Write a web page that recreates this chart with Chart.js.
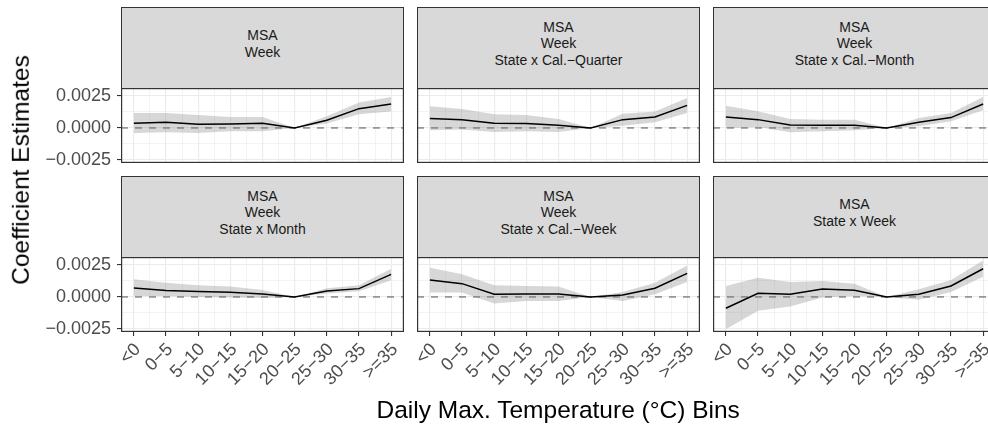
<!DOCTYPE html>
<html>
<head>
<meta charset="utf-8">
<script src="https://cdn.jsdelivr.net/npm/chart.js@4/dist/chart.umd.min.js"></script>
<style>
  html, body { margin: 0; padding: 0; background: #fff; overflow: hidden; }
  #fig { position: relative; width: 988px; height: 425px; overflow: hidden;
         font-family: "Liberation Sans", Arial, sans-serif; }
  .strip { position: absolute; box-sizing: border-box; background: #D9D9D9;
           border: 1px solid #333; display: flex; align-items: center;
           justify-content: center; text-align: center; color: #1A1A1A;
           font-size: 14px; line-height: 16.5px; padding-bottom: 9px; }
  canvas { position: absolute; }
  .axis-title { position: absolute; color: #000; font-size: 24.5px; white-space: nowrap; }
</style>
</head>
<body>
<div id="fig"></div>
<script>
// temperature bins on the x axis
const bins = ['<0', '0\u22125', '5\u221210', '10\u221215', '15\u221220', '20\u221225', '25\u221230', '30\u221235', '>=35'];

// y ticks
const yTickValues = [-0.0025, 0, 0.0025];
const yTickLabels = ['\u22120.0025', '0.0000', '0.0025'];

// MSA / Week
const estWeek = [0.00037, 0.00044, 0.00029, 0.00031, 0.00036, 0, 0.0006, 0.00151, 0.00188];
const hiWeek  = [0.00117, 0.00117, 0.00102, 0.00086, 0.00086, 0, 0.00091, 0.0020, 0.00242];
const loWeek  = [-0.00039, -0.00034, -0.00039, -0.00026, -0.00026, 0, 0.00034, 0.00107, 0.00128];

// MSA / Week / State x Cal.-Quarter
const estCalQuarter = [0.00073, 0.00065, 0.00036, 0.00034, 0.00021, 0, 0.00065, 0.00086, 0.00177];
const hiCalQuarter  = [0.00169, 0.00148, 0.00107, 0.00102, 0.0007, 0, 0.00112, 0.00128, 0.00234];
const loCalQuarter  = [-0.00018, -0.00013, -0.00031, -0.00026, -0.00031, 0, 0.00018, 0.00044, 0.00117];

// MSA / Week / State x Cal.-Month
const estCalMonth = [0.00086, 0.00065, 0.00023, 0.00021, 0.00021, 0, 0.00044, 0.00081, 0.00188];
const hiCalMonth  = [0.00174, 0.0013, 0.0007, 0.00065, 0.00065, 0, 0.00078, 0.00117, 0.00242];
const loCalMonth  = [-0.00002, 0.00008, -0.00034, -0.00026, -0.00018, 0, 0.00013, 0.00052, 0.00138];

// MSA / Week / State x Month
const estMonth = [0.0007, 0.0005, 0.00042, 0.00036, 0.00023, 0, 0.00047, 0.00065, 0.00177];
const hiMonth  = [0.00138, 0.00112, 0.00091, 0.00081, 0.00055, 0, 0.00068, 0.00091, 0.00221];
const loMonth  = [0.00008, 0.00008, 0, -0.00005, -0.00008, 0, 0.00026, 0.00044, 0.0013];

// MSA / Week / State x Cal.-Week
const estCalWeek = [0.00133, 0.00104, 0.00021, 0.00023, 0.00023, 0, 0.00016, 0.00068, 0.00185];
const hiCalWeek  = [0.00229, 0.00177, 0.00091, 0.00086, 0.00081, 0, 0.00039, 0.00112, 0.00247];
const loCalWeek  = [0.00034, 0.00034, -0.00052, -0.00031, -0.00031, 0, -0.00031, 0.00021, 0.00117];

// MSA / State x Week
const estStateWeek = [-0.00089, 0.00029, 0.00021, 0.00063, 0.00052, 0, 0.00021, 0.00086, 0.00221];
const hiStateWeek  = [0.00086, 0.00151, 0.00117, 0.00125, 0.00104, 0, 0.0006, 0.00133, 0.00286];
const loStateWeek  = [-0.00253, -0.00109, -0.00076, -0.00005, 0.00008, 0, -0.00023, 0.00039, 0.00159];

const panels = [
  { title: ['MSA', 'Week'], est: estWeek, hi: hiWeek, lo: loWeek },
  { title: ['MSA', 'Week', 'State x Cal.\u2212Quarter'], est: estCalQuarter, hi: hiCalQuarter, lo: loCalQuarter },
  { title: ['MSA', 'Week', 'State x Cal.\u2212Month'], est: estCalMonth, hi: hiCalMonth, lo: loCalMonth },
  { title: ['MSA', 'Week', 'State x Month'], est: estMonth, hi: hiMonth, lo: loMonth },
  { title: ['MSA', 'Week', 'State x Cal.\u2212Week'], est: estCalWeek, hi: hiCalWeek, lo: loCalWeek },
  { title: ['MSA', 'State x Week'], est: estStateWeek, hi: hiStateWeek, lo: loStateWeek }
];

// facet grid geometry
const colX = [121, 417, 713];
const stripTop = [7, 176];
const STRIP_H = 82, PANEL_W = 283, PANEL_H = 75;
const Y_AXIS_W = 121, GAP = 13, X_AXIS_H = 70;
const TOP_PAD = 10, BOTTOM_PAD = 10;   // room for y labels overhanging the plot area
const X_MIN = -0.4, X_MAX = 8.4;
const Y_MIN = -0.00275, Y_MAX = 0.00313;
const FONT = '"Liberation Sans", Arial, sans-serif';

const xGrid = [];
for (let i = 0; i <= 16; i++) xGrid.push(i / 2);
const yGrid = [-0.0025, -0.00125, 0, 0.00125, 0.0025];

const isMajorX = v => Math.abs(v - Math.round(v)) < 1e-9;
const yMajorIndex = v => yTickValues.findIndex(t => Math.abs(t - v) < 1e-9);

// keep the plot area fixed: no label overhang padding
const noPadding = s => {
  s.paddingTop = 0; s.paddingBottom = 0; s.paddingLeft = 0; s.paddingRight = 0;
};

const panelBorder = {
  id: 'panelBorder',
  afterDraw(chart) {
    const { ctx, chartArea: a } = chart;
    ctx.save();
    ctx.strokeStyle = '#333333';
    ctx.lineWidth = 1.2;
    ctx.strokeRect(a.left + 0.6, a.top + 0.6, a.right - a.left - 1.2, a.bottom - a.top - 1.2);
    ctx.restore();
  }
};

const fig = document.getElementById('fig');
const toPts = arr => arr.map((y, i) => ({ x: i, y: y }));

panels.forEach((p, k) => {
  const row = Math.floor(k / 3), col = k % 3;
  const showX = row === 1, showY = col === 0;

  const strip = document.createElement('div');
  strip.className = 'strip';
  strip.style.left = colX[col] + 'px';
  strip.style.top = stripTop[row] + 'px';
  strip.style.width = PANEL_W + 'px';
  strip.style.height = STRIP_H + 'px';
  strip.innerHTML = '<div>' + p.title.join('<br>') + '</div>';
  fig.appendChild(strip);

  const leftW = showY ? Y_AXIS_W : GAP;
  const botH = showX ? X_AXIS_H : BOTTOM_PAD;
  const canvas = document.createElement('canvas');
  canvas.width = PANEL_W + leftW;
  canvas.height = TOP_PAD + PANEL_H + botH;
  canvas.style.left = (colX[col] - leftW) + 'px';
  canvas.style.top = (stripTop[row] + STRIP_H - 1 - TOP_PAD) + 'px';
  fig.appendChild(canvas);

  new Chart(canvas, {
    type: 'line',
    data: {
      datasets: [
        { data: toPts(p.lo), borderWidth: 0, pointRadius: 0, fill: false, order: 3 },
        { data: toPts(p.hi), borderWidth: 0, pointRadius: 0, fill: '-1',
          backgroundColor: 'rgba(150,150,150,0.38)', order: 3 },
        { data: [{ x: X_MIN, y: 0 }, { x: X_MAX, y: 0 }], borderColor: '#7F7F7F',
          borderWidth: 1.4, borderDash: [7, 7], pointRadius: 0, fill: false, order: 2 },
        { data: toPts(p.est), borderColor: '#000000', borderWidth: 1.5, pointRadius: 0,
          fill: false, order: 1 }
      ]
    },
    options: {
      responsive: false,
      animation: false,
      events: [],
      layout: { padding: { top: TOP_PAD, left: 0, right: 0, bottom: 0 }, autoPadding: false },
      plugins: { legend: { display: false }, tooltip: { enabled: false } },
      scales: {
        x: {
          type: 'linear', min: X_MIN, max: X_MAX,
          afterBuildTicks: s => { s.ticks = xGrid.map(v => ({ value: v })); },
          afterFit: s => { s.height = botH; noPadding(s); },
          border: { display: false },
          grid: {
            color: '#EBEBEB',
            lineWidth: c => (c.tick && isMajorX(c.tick.value)) ? 1.1 : 0.6,
            drawTicks: showX, tickLength: 4,
            tickColor: c => (c.tick && isMajorX(c.tick.value)) ? '#333333' : 'rgba(0,0,0,0)'
          },
          ticks: {
            display: showX, autoSkip: false, maxRotation: 45, minRotation: 45,
            padding: 3, labelOffset: 4,
            color: '#4D4D4D', font: { size: 18, family: FONT },
            callback: v => isMajorX(v) ? bins[Math.round(v)] : ''
          }
        },
        y: {
          type: 'linear', min: Y_MIN, max: Y_MAX,
          afterBuildTicks: s => { s.ticks = yGrid.map(v => ({ value: v })); },
          afterFit: s => { s.width = leftW; noPadding(s); },
          border: { display: false },
          grid: {
            color: '#EBEBEB',
            lineWidth: c => (c.tick && yMajorIndex(c.tick.value) >= 0) ? 1.1 : 0.6,
            drawTicks: showY, tickLength: 4,
            tickColor: c => (c.tick && yMajorIndex(c.tick.value) >= 0) ? '#333333' : 'rgba(0,0,0,0)'
          },
          ticks: {
            display: showY, autoSkip: false, padding: 6,
            color: '#4D4D4D', font: { size: 18, family: FONT },
            callback: v => { const i = yMajorIndex(v); return i >= 0 ? yTickLabels[i] : ''; }
          }
        }
      }
    },
    plugins: [panelBorder]
  });
});

// axis titles
const yTitle = document.createElement('div');
yTitle.className = 'axis-title';
yTitle.textContent = 'Coefficient Estimates';
fig.appendChild(yTitle);
yTitle.style.left = (21 - yTitle.offsetWidth / 2) + 'px';
yTitle.style.top = (170 - yTitle.offsetHeight / 2) + 'px';
yTitle.style.transform = 'rotate(-90deg)';

const xTitle = document.createElement('div');
xTitle.className = 'axis-title';
xTitle.textContent = 'Daily Max. Temperature (\u00B0C) Bins';
fig.appendChild(xTitle);
xTitle.style.left = (558 - xTitle.offsetWidth / 2) + 'px';
xTitle.style.top = (410 - xTitle.offsetHeight / 2) + 'px';
</script>
</body>
</html>
